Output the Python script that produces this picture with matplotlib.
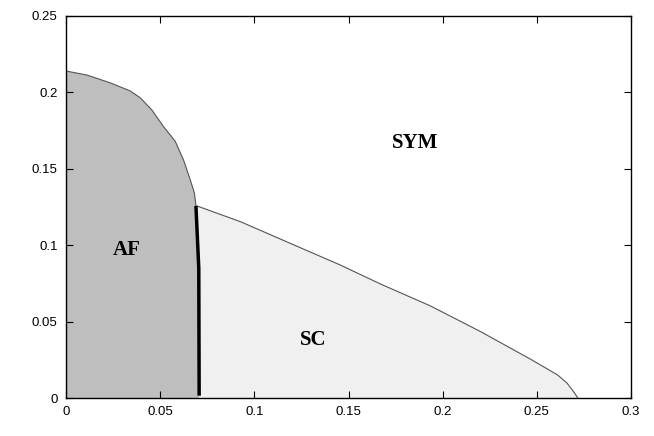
import matplotlib
matplotlib.use("Agg")
import matplotlib.pyplot as plt

# AF phase boundary (x, y)
af_x = [0.0, 0.011, 0.0234, 0.034, 0.0394, 0.0456, 0.0518, 0.058, 0.0624, 0.066, 0.0682, 0.069]
af_y = [0.214, 0.2114, 0.2063, 0.201, 0.1965, 0.1885, 0.1776, 0.168, 0.1558, 0.1427, 0.134, 0.1257]

# AF/SC first-order boundary (thick line)
b_x = [0.069, 0.0705, 0.0707]
b_y = [0.1257, 0.085, 0.0015]

# SC phase boundary
sc_x = [0.0695, 0.0926, 0.1191, 0.1457, 0.167, 0.1936, 0.2202, 0.2468, 0.261, 0.266, 0.269, 0.2718]
sc_y = [0.1257, 0.1154, 0.1012, 0.0870, 0.0746, 0.0602, 0.0434, 0.0253, 0.0151, 0.0098, 0.005, 0.0]

labels = ["AF", "SYM", "SC"]
label_x = [0.0324, 0.1856, 0.1314]
label_y = [0.0969, 0.1669, 0.038]

xticks = [0, 0.05, 0.1, 0.15, 0.2, 0.25, 0.3]
yticks = [0, 0.05, 0.1, 0.15, 0.2, 0.25]
xticklabels = ["0", "0.05", "0.1", "0.15", "0.2", "0.25", "0.3"]
yticklabels = ["0", "0.05", "0.1", "0.15", "0.2", "0.25"]

fig = plt.figure(figsize=(6.54, 4.36), dpi=100)
ax = fig.add_axes([66/654, 38/436, (631-66)/654, (398-16)/436])

# AF region
afpoly_x = af_x + [b_x[1], b_x[2], 0.0]
afpoly_y = af_y + [b_y[1], 0.0, 0.0]
ax.fill(afpoly_x, afpoly_y, color="#bebebe", lw=0, zorder=1)

# SC region
scpoly_x = sc_x + [b_x[2], b_x[1]]
scpoly_y = sc_y + [0.0, b_y[1]]
ax.fill(scpoly_x, scpoly_y, color="#f0f0f0", lw=0, zorder=1)

ax.plot(af_x, af_y, color="#555555", lw=0.8, zorder=2)
ax.plot(sc_x, sc_y, color="#555555", lw=0.8, zorder=2)
ax.plot(b_x, b_y, color="black", lw=2.5, zorder=3, solid_capstyle="butt")

for t, x, y in zip(labels, label_x, label_y):
    ax.text(x, y, t, fontfamily="Liberation Serif", fontweight="bold",
            fontsize=15, ha="center", va="center", zorder=4)

ax.set_xlim(0, 0.3)
ax.set_ylim(0, 0.25)
ax.set_xticks(xticks)
ax.set_yticks(yticks)
ax.set_xticklabels(xticklabels)
ax.set_yticklabels(yticklabels)
ax.tick_params(direction="in", top=True, right=True, length=5, width=0.8,
               labelsize=9.5, pad=6)
for lab in ax.get_xticklabels() + ax.get_yticklabels():
    lab.set_fontfamily("Liberation Sans")
for s in ax.spines.values():
    s.set_linewidth(1.0)

fig.savefig("out.png", dpi=100)
